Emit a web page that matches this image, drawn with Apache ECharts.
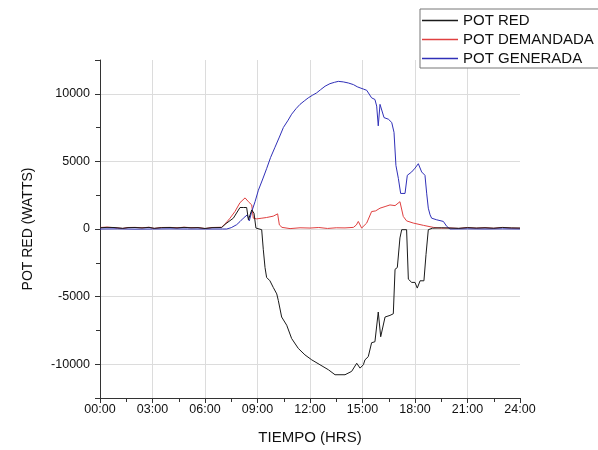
<!DOCTYPE html>
<html>
<head>
<meta charset="utf-8">
<script src="https://cdn.jsdelivr.net/npm/echarts@6/dist/echarts.min.js"></script>
<style>
html,body{margin:0;padding:0;background:#fff;}
#chart{width:598px;height:450px;}
</style>
</head>
<body>
<div id="chart"></div>
<script>
// ---- data (hours, watts) ----
const seriesNames = ['POT RED', 'POT DEMANDADA', 'POT GENERADA'];
const xTickLabels = ['00:00','03:00','06:00','09:00','12:00','15:00','18:00','21:00','24:00'];

const redTime = [0,0.4,0.8,1.3,1.6,2.0,2.4,2.8,3.1,3.5,4.0,4.4,4.8,5.2,5.6,6.0,6.4,6.95,7.2,7.62,8.0,8.19,8.38,8.48,8.58,8.67,8.8,8.91,8.95,9.24,9.33,9.43,9.52,9.71,9.9,10.1,10.19,10.38,10.67,10.95,11.33,11.71,12.1,12.57,13.05,13.43,14.0,14.38,14.67,14.86,15.05,15.14,15.33,15.52,15.71,15.9,16.04,16.29,16.57,16.76,16.86,16.99,17.14,17.24,17.52,17.62,17.81,18.0,18.13,18.29,18.51,18.63,18.76,19.0,19.5,20.0,20.5,21.0,21.5,22.0,22.5,23.0,23.5,24];
const redValue = [90,120,110,50,100,110,80,120,50,100,110,80,120,90,100,40,100,110,400,800,1590,1590,1590,680,560,1410,1170,70,-50,-50,-1500,-2850,-3580,-3830,-4320,-4800,-5290,-6510,-7120,-8100,-8830,-9310,-9680,-10040,-10410,-10780,-10780,-10530,-9930,-10290,-10040,-9680,-9440,-8410,-8340,-6140,-7970,-6510,-6390,-6270,-2980,-2850,-660,-50,-50,-3710,-3950,-3950,-4370,-3830,-3830,-1880,-50,60,90,70,50,100,70,90,60,110,80,70];

const demandTime = [0,0.4,0.8,1.3,1.6,2.0,2.4,2.8,3.1,3.5,4.0,4.4,4.8,5.2,5.6,6.0,6.4,6.95,7.2,7.43,7.71,8.0,8.29,8.48,8.67,8.76,8.95,9.25,9.52,9.9,10.15,10.25,10.4,10.86,11.43,12.0,12.5,13.0,13.5,14.0,14.48,14.65,14.76,14.95,15.24,15.52,15.75,16.0,16.29,16.57,16.86,17.14,17.33,17.52,17.9,18.48,19.05,19.5,20.0,20.5,21.0,21.5,22.0,22.5,23.0,23.5,24];
const demandValue = [110,140,100,40,110,120,90,130,40,110,120,90,130,100,110,30,110,130,450,800,1290,1950,2300,2020,1780,800,750,800,850,950,1120,300,120,30,90,70,110,40,90,80,120,300,560,70,440,1290,1340,1540,1660,1780,1730,2020,930,600,440,270,120,60,80,40,110,60,100,50,120,70,60];

const genTime = [0,1,2,3,4,5,6,7,7.24,7.5,7.81,8.0,8.19,8.42,8.53,8.67,8.86,9.05,9.3,9.52,9.75,10.0,10.25,10.48,10.75,10.95,11.2,11.43,11.7,11.9,12.15,12.38,12.6,12.86,13.14,13.4,13.62,13.9,14.19,14.48,14.7,14.86,15.05,15.24,15.52,15.71,15.81,15.9,16.0,16.1,16.23,16.48,16.67,16.8,16.91,17.05,17.18,17.43,17.56,17.81,18.0,18.19,18.38,18.57,18.67,18.76,18.86,18.95,19.24,19.62,19.81,20.0,21,22,23,24];
const genValue = [0,10,-10,0,10,0,0,0,0,100,320,550,800,1050,600,1290,2020,2870,3700,4460,5300,6050,6800,7510,8050,8490,8900,9220,9500,9700,9900,10070,10300,10560,10750,10850,10920,10880,10800,10680,10520,10440,10350,10260,9700,9580,9090,7630,9220,9340,8240,8120,7880,7150,4700,3730,2630,2630,3970,4220,4500,4830,4220,3970,2600,1540,1050,800,680,560,200,0,10,0,10,0];

const lineColors = ['#1a1a1a', '#e04040', '#3030b8'];

function pairs(t, v) { return t.map((x, i) => [x, v[i]]); }

const chart = echarts.init(document.getElementById('chart'), null, {renderer: 'canvas'});
const font = 'Liberation Sans, Arial, sans-serif';
const axisColor = '#333';
const lineIcon = 'path://M0,0H36V1.3H0Z';

chart.setOption({
  animation: false,
  backgroundColor: '#fff',
  color: lineColors,
  textStyle: {fontFamily: font},
  grid: {left: 100, right: 78, top: 60, bottom: 48, containLabel: false},
  legend: {
    orient: 'vertical',
    left: 420, top: 9,
    padding: [4, 6, 2, 2],
    itemWidth: 36, itemHeight: 15, itemGap: 4,
    borderColor: '#777', borderWidth: 1,
    backgroundColor: '#fff',
    data: seriesNames.map((n, i) => ({name: n, icon: lineIcon, itemStyle: {color: lineColors[i], borderWidth: 0}})),
    textStyle: {fontSize: 15, color: '#111', fontFamily: font}
  },
  xAxis: {
    type: 'value', min: 0, max: 24, interval: 3,
    name: 'TIEMPO (HRS)', nameLocation: 'middle', nameGap: 32,
    nameTextStyle: {fontSize: 15, color: '#111', fontFamily: font},
    axisLine: {show: true, onZero: false, lineStyle: {color: axisColor, width: 1}},
    axisTick: {show: true, length: 5, lineStyle: {color: axisColor}},
    minorTick: {show: true, splitNumber: 2, length: 4, lineStyle: {color: axisColor}},
    axisLabel: {margin: 5, fontSize: 12.5, color: '#111', fontFamily: font,
      formatter: v => xTickLabels[Math.round(v / 3)]},
    splitLine: {show: true, showMinLine: false, showMaxLine: false, lineStyle: {color: '#dcdcdc', width: 1}}
  },
  yAxis: {
    type: 'value', min: -12500, max: 12500, splitNumber: 5,
    name: 'POT RED (WATTS)', nameLocation: 'middle', nameGap: 65,
    nameTextStyle: {fontSize: 14, color: '#111', fontFamily: font},
    axisLine: {show: true, onZero: false, lineStyle: {color: axisColor, width: 1}},
    axisTick: {show: true, length: 5, lineStyle: {color: axisColor}},
    minorTick: {show: true, splitNumber: 2, length: 4, lineStyle: {color: axisColor}},
    axisLabel: {margin: 10, fontSize: 12.5, color: '#111', fontFamily: font,
      showMinLabel: false, showMaxLabel: false,
      formatter: v => (v % 5000 === 0 ? String(v) : '')},
    splitLine: {show: true, showMinLine: false, showMaxLine: false, lineStyle: {color: '#dcdcdc', width: 1}}
  },
  series: [
    {name: seriesNames[0], type: 'line', symbol: 'none', color: lineColors[0], data: pairs(redTime, redValue),
     lineStyle: {color: lineColors[0], width: 1}, itemStyle: {color: lineColors[0]}, z: 3},
    {name: seriesNames[1], type: 'line', symbol: 'none', color: lineColors[1], data: pairs(demandTime, demandValue),
     lineStyle: {color: lineColors[1], width: 1}, itemStyle: {color: lineColors[1]}, z: 2},
    {name: seriesNames[2], type: 'line', symbol: 'none', color: lineColors[2], data: pairs(genTime, genValue),
     lineStyle: {color: lineColors[2], width: 1}, itemStyle: {color: lineColors[2]}, z: 2}
  ]
});
</script>
</body>
</html>
